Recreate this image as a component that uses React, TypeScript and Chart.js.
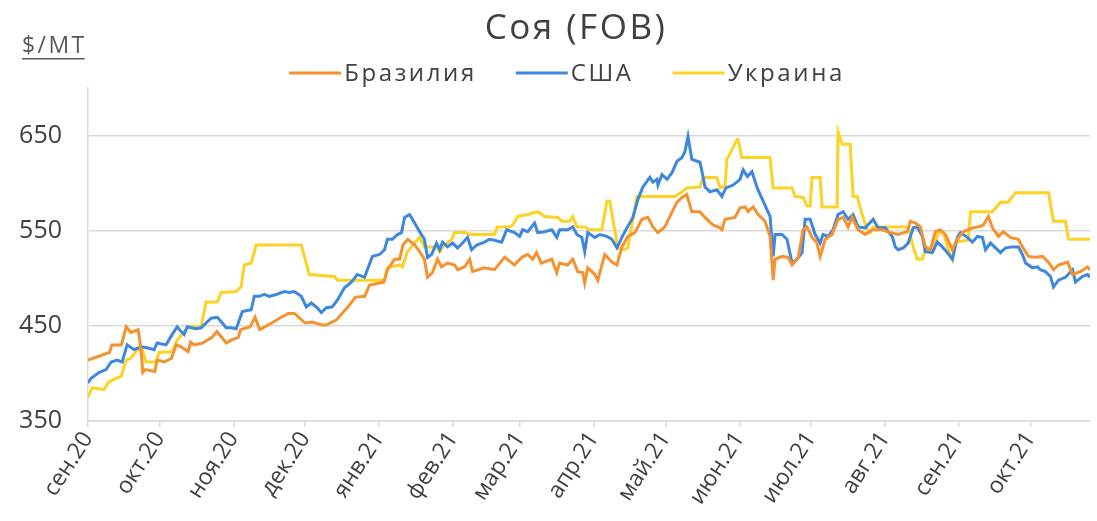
import React, { useEffect, useRef } from 'react';
import { Chart, registerables } from 'chart.js';

Chart.register(...registerables);

const FONT = '"Open Sans", "DejaVu Sans", sans-serif';
const TITLE = 'Соя (FOB)';
const UNIT = '$/MT';

const monthTickDays = [0, 30, 61, 91, 122, 153, 181, 212, 242, 273, 303, 334, 365, 395];
const monthLabels = ['сен.20', 'окт.20', 'ноя.20', 'дек.20', 'янв.21', 'фев.21', 'мар.21', 'апр.21', 'май.21', 'июн.21', 'июл.21', 'авг.21', 'сен.21', 'окт.21'];
const yTicks = [350, 450, 550, 650];

const seriesNames = ['Бразилия', 'США', 'Украина'];

const brazilDays = [0, 9, 10, 14, 16, 18, 21, 22, 23, 24, 28, 29, 32, 35, 37, 39, 42, 43, 44.5, 48, 52, 54, 56, 58, 60, 63, 64, 68, 70, 72, 77, 81, 84, 86.5, 91, 94, 98, 100, 104, 109, 112, 116, 118, 124, 125.5, 128.5, 130.6, 132, 134, 137, 139, 141, 142.3, 144.4, 146.5, 148.2, 150.7, 153.7, 155, 157.9, 160, 161.2, 166, 170.4, 174.6, 178.8, 181.8, 184.3, 186.4, 188, 190, 194.4, 196.5, 197.7, 201, 203.2, 205.3, 207.4, 208.2, 209.5, 212.4, 213.7, 216.6, 219.6, 221.7, 223.8, 226.3, 229.2, 232.2, 234.7, 236.8, 238.9, 241.8, 243.9, 246.9, 249, 251, 253.1, 256.5, 258.6, 262, 264.9, 265.7, 267, 271.2, 273.3, 275.4, 276.7, 278.8, 280.9, 283.8, 285.9, 287.2, 288, 290.9, 293.5, 295.1, 297.7, 299.7, 301.4, 303.5, 305.6, 306.9, 309, 311.9, 314.4, 316.5, 318.6, 320.3, 322.8, 325.8, 328.7, 332.9, 336.3, 339.6, 343.4, 344.7, 346.8, 348.9, 351, 353.1, 355.2, 357.3, 359.4, 362.3, 364.4, 366.9, 370.7, 373.2, 375.3, 377.4, 379.1, 381.6, 383.7, 386.6, 390, 391.7, 394.2, 397.1, 400.1, 402.6, 404.7, 406.8, 410.6, 412.7, 416, 419, 420];
const brazilValues = [414, 422, 430, 430, 449, 443, 446, 430, 401, 404, 402, 414, 412, 416, 430, 428, 423, 433, 430, 432, 438, 444, 438, 432, 435, 438, 446, 449, 459, 446, 453, 459, 463, 463, 453, 454, 451, 451, 456, 470, 480, 481, 493, 496, 509, 520, 520, 535, 541, 535, 528, 520, 501, 506, 520, 512, 516, 514, 509, 512, 520, 507, 511, 509, 522, 514, 522, 525, 520, 527, 516, 520, 506, 516, 514, 520, 507, 506, 495, 511, 504, 498, 525, 517, 514, 533, 544, 548, 562, 564, 554, 548, 554, 565, 580, 585, 588, 570, 570, 564, 556, 553, 551, 562, 564, 574, 575, 570, 575, 567, 560, 544, 498, 520, 523, 522, 514, 522, 551, 554, 543, 537, 523, 541, 546, 562, 564, 554, 564, 551, 546, 551, 551, 548, 546, 549, 560, 558, 554, 533, 530, 549, 551, 546, 530, 541, 549, 553, 554, 556, 565, 553, 544, 549, 543, 541, 533, 523, 522, 523, 517, 509, 514, 517, 504, 507, 512, 509];

const usaDays = [0, 1.3, 4.6, 7.6, 9.7, 12.2, 14.3, 16.4, 19.3, 22.3, 24.8, 27.7, 29, 32.7, 35.3, 37.4, 39, 40.3, 41.6, 45.3, 47.4, 49.5, 51.6, 54.2, 56.3, 57.9, 60, 62.1, 63.4, 64.7, 68.4, 69.7, 71.8, 73.9, 76, 78.9, 82.3, 84.4, 86.5, 89.4, 91.5, 93.6, 96.1, 97.8, 99.9, 102.4, 104.5, 107.5, 110.4, 112.9, 115.9, 117.1, 119.2, 122.2, 124.3, 125.5, 127.6, 129.7, 131.4, 132.7, 134.8, 136.9, 139, 141, 142.3, 144, 146.1, 147.4, 148.6, 150.7, 152.8, 154.9, 157, 159.1, 160.8, 162.9, 166.2, 168.3, 170.4, 173.4, 175.5, 178.8, 180.9, 182.2, 184.3, 187.2, 188.5, 191.4, 194.4, 196.5, 197.7, 201.1, 203.2, 204.9, 207, 208.2, 209.5, 212.4, 214.5, 217.5, 219.6, 221.7, 223.8, 225.9, 228.4, 230.5, 232.6, 235.5, 236.8, 238.5, 238.9, 240.6, 242.7, 244.8, 246.9, 249, 250.2, 251.5, 253.1, 256.5, 257.8, 258.6, 260.7, 263.6, 265.7, 267.4, 270.4, 273.3, 274.6, 276.4, 278.3, 280.5, 283, 285.9, 287.2, 288, 290.9, 293, 295.1, 297.2, 299.3, 300.6, 302.7, 304.8, 306.9, 308.1, 310.2, 312.3, 314.4, 316.5, 318.6, 320.7, 322.8, 325.8, 329.1, 331.2, 334.2, 335.4, 337.1, 338.4, 339.6, 341.7, 343.8, 345.9, 347.6, 349.7, 351, 353.9, 356, 358.1, 360.2, 362.3, 364.4, 365.7, 368.6, 370.7, 372.8, 374.9, 376.2, 378.3, 380.4, 382.5, 384.6, 387.5, 390, 391.7, 393, 395.9, 398, 399.2, 401.3, 403.4, 404.7, 406.8, 409.7, 412.7, 413.9, 416.9, 419, 420];
const usaValues = [390, 395, 401, 404, 412, 414, 412, 430, 425, 428, 427, 425, 432, 430, 441, 449, 444, 441, 449, 447, 448, 453, 458, 459, 453, 448, 448, 447, 456, 465, 467, 481, 481, 483, 481, 483, 486, 485, 486, 481, 470, 474, 469, 464, 469, 470, 477, 490, 496, 504, 501, 509, 523, 525, 530, 541, 541, 546, 548, 564, 567, 558, 549, 541, 522, 525, 537, 530, 538, 533, 537, 532, 537, 543, 530, 535, 538, 541, 540, 538, 551, 548, 544, 551, 549, 558, 548, 549, 551, 543, 551, 551, 554, 546, 543, 528, 548, 543, 546, 544, 541, 532, 543, 553, 564, 583, 596, 606, 601, 604, 598, 609, 604, 611, 623, 627, 633, 649, 625, 622, 607, 596, 591, 593, 586, 595, 598, 604, 614, 607, 612, 595, 581, 565, 523, 546, 546, 541, 516, 520, 527, 562, 562, 546, 537, 546, 544, 551, 567, 570, 562, 567, 554, 553, 562, 553, 553, 549, 544, 533, 530, 532, 537, 553, 554, 544, 528, 527, 538, 533, 527, 520, 543, 548, 543, 538, 544, 543, 530, 537, 532, 527, 532, 533, 533, 525, 516, 511, 512, 509, 507, 502, 491, 498, 501, 509, 496, 502, 504, 501];

const ukraineDays = [0, 1.7, 4.6, 6.7, 8.8, 11.8, 13.9, 16, 18, 20.6, 22.7, 24.3, 28.5, 29.8, 35.3, 37.4, 39.5, 41.6, 43.2, 47.4, 49.5, 54.2, 55.8, 62.1, 64.2, 65.5, 68.4, 70.5, 89.4, 92.8, 103.3, 104.5, 124.3, 125.5, 127.2, 130.6, 131.8, 133.9, 136.9, 139, 141, 146.1, 147.4, 148.6, 152.4, 153.7, 157.9, 160, 170.4, 171.5, 176.7, 178, 180.1, 184.3, 188.5, 191.4, 196.9, 198.6, 201.9, 203.2, 204.9, 208.2, 210.3, 215.4, 217.5, 218.7, 220, 222.1, 225, 226.3, 230.1, 246, 249, 251, 256.5, 257.8, 263.6, 264.9, 267, 267.8, 269.9, 272, 272.5, 274.1, 285.9, 287.2, 295.1, 296.4, 299.7, 301.4, 302.7, 303.5, 306.9, 307.7, 314, 314.4, 316.1, 319.5, 320.7, 322.4, 324.5, 326.6, 327.9, 329.1, 343.8, 345.9, 347.6, 349.7, 351, 354.3, 356.4, 358.5, 360.6, 362.3, 363.6, 369, 369.9, 379.1, 382.5, 385.8, 388.7, 402.6, 404.7, 409.7, 411, 420];
const ukraineValues = [375, 385, 384, 383, 391, 395, 397, 414, 416, 425, 425, 412, 412, 422, 423, 435, 441, 448, 449, 449, 475, 475, 485, 486, 491, 514, 516, 535, 535, 504, 502, 498, 498, 511, 512, 514, 512, 528, 537, 543, 533, 533, 528, 533, 541, 548, 548, 546, 546, 554, 554, 556, 565, 567, 570, 565, 564, 560, 560, 565, 554, 554, 551, 551, 581, 581, 562, 532, 530, 532, 586, 586, 591, 595, 596, 606, 606, 595, 597, 625, 635, 646, 646, 627, 627, 595, 595, 586, 585, 576, 576, 606, 606, 575, 575, 654, 641, 641, 586, 586, 567, 551, 548, 554, 554, 533, 520, 520, 530, 530, 548, 548, 530, 520, 538, 540, 570, 570, 580, 580, 590, 590, 560, 560, 541, 541];

const seriesColors = ['#F5922F', '#3D88DE', '#FDD225'];

function toPoints(days: number[], values: number[]) {
  return days.map((d, i) => ({ x: d, y: values[i] }));
}

function setSpacing(ctx: any, px: number) {
  if ('letterSpacing' in ctx) ctx.letterSpacing = `${px}px`;
}

const overlayPlugin = {
  id: 'overlay',
  afterDraw(chart: any) {
    const ctx = chart.ctx as CanvasRenderingContext2D;
    ctx.save();
    // title
    ctx.fillStyle = '#404040';
    ctx.font = `35px ${FONT}`;
    setSpacing(ctx, 2.5);
    ctx.textAlign = 'center';
    ctx.textBaseline = 'middle';
    ctx.fillText(TITLE, 576, 29);
    // unit label
    ctx.fillStyle = '#595959';
    ctx.font = `23px ${FONT}`;
    setSpacing(ctx, 2.4);
    ctx.textAlign = 'left';
    ctx.fillText(UNIT, 22, 46);
    const uw = ctx.measureText(UNIT).width - 2;
    ctx.fillRect(22, 58, uw, 1.5);
    // legend
    ctx.font = `24px ${FONT}`;
    setSpacing(ctx, 2.6);
    ctx.fillStyle = '#404040';
    const lineLen = 52;
    const gap = 3;
    const spacing = 39;
    const items = chart.data.datasets.map((ds: any) => ({
      label: ds.label as string,
      color: ds.borderColor as string,
      w: ctx.measureText(ds.label).width,
    }));
    const total = items.reduce((s: number, it: any) => s + lineLen + gap + it.w, 0) + spacing * (items.length - 1);
    let x = 567 - total / 2;
    const y = 73;
    items.forEach((it: any) => {
      ctx.strokeStyle = it.color;
      ctx.lineWidth = 3;
      ctx.beginPath();
      ctx.moveTo(x, y);
      ctx.lineTo(x + lineLen, y);
      ctx.stroke();
      ctx.fillStyle = '#404040';
      ctx.fillText(it.label, x + lineLen + gap, y + 1);
      x += lineLen + gap + it.w + spacing;
    });
    ctx.restore();
  },
};

export default function App() {
  const ref = useRef<HTMLCanvasElement | null>(null);
  useEffect(() => {
    if (!ref.current) return;
    Chart.defaults.font.family = FONT;
    const chart = new Chart(ref.current, {
      type: 'line',
      data: {
        datasets: [
          { label: seriesNames[0], data: toPoints(brazilDays, brazilValues), borderColor: seriesColors[0], backgroundColor: seriesColors[0], borderWidth: 3, pointRadius: 0, tension: 0 },
          { label: seriesNames[1], data: toPoints(usaDays, usaValues), borderColor: seriesColors[1], backgroundColor: seriesColors[1], borderWidth: 3, pointRadius: 0, tension: 0 },
          { label: seriesNames[2], data: toPoints(ukraineDays, ukraineValues), borderColor: seriesColors[2], backgroundColor: seriesColors[2], borderWidth: 3, pointRadius: 0, tension: 0 },
        ],
      },
      options: {
        animation: false,
        responsive: true,
        maintainAspectRatio: false,
        layout: { padding: { left: 0, top: 88, right: 7, bottom: 0 } },
        plugins: {
          legend: { display: false },
          title: { display: false },
          tooltip: { enabled: false },
        },
        scales: {
          x: {
            type: 'linear',
            min: 0,
            max: 420,
            afterBuildTicks: (scale: any) => {
              scale.ticks = monthTickDays.map((v) => ({ value: v }));
            },
            afterFit: (scale: any) => {
              scale.height = 100;
            },
            ticks: {
              autoSkip: false,
              minRotation: 57,
              maxRotation: 57,
              padding: 0,
              color: '#404040',
              font: { size: 23 },
              callback: (v: any) => {
                const i = monthTickDays.indexOf(Number(v));
                return i >= 0 ? monthLabels[i] : '';
              },
            },
            grid: { drawOnChartArea: false, drawTicks: true, tickLength: 6, color: '#d9d9d9', lineWidth: 1.5 },
            border: { display: true, color: '#d9d9d9', width: 1.5 },
          },
          y: {
            type: 'linear',
            min: 350,
            max: 700,
            afterBuildTicks: (scale: any) => {
              scale.ticks = yTicks.map((v) => ({ value: v }));
            },
            afterFit: (scale: any) => {
              scale.width = 88;
            },
            ticks: { padding: 26, color: '#404040', font: { size: 25 } },
            grid: { drawTicks: false, color: '#d9d9d9', lineWidth: 1.5 },
            border: { display: true, color: '#d9d9d9', width: 1.5 },
          },
        },
      },
      plugins: [overlayPlugin],
    });
    return () => chart.destroy();
  }, []);
  return (
    <div style={{ position: 'fixed', left: 0, top: 0, width: 1097, height: 521, background: '#fff' }}>
      <canvas ref={ref} />
    </div>
  );
}
